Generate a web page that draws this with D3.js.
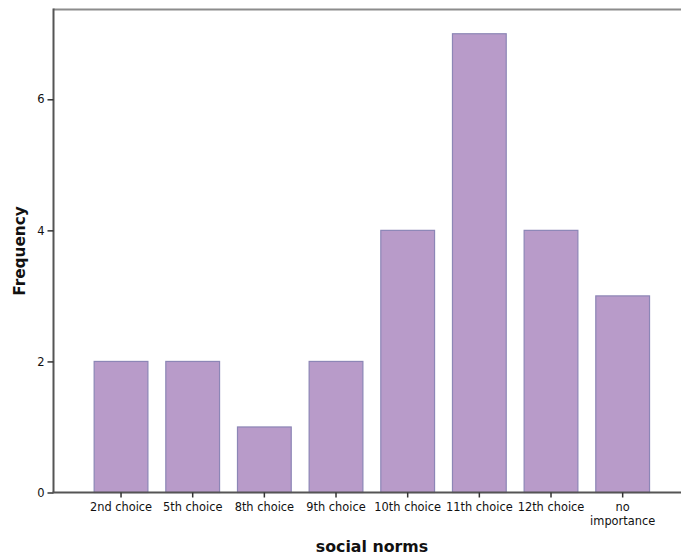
<!DOCTYPE html>
<html>
<head>
<meta charset="utf-8">
<script src="https://cdn.jsdelivr.net/npm/d3@7"></script>
<style>
  html, body { margin: 0; padding: 0; background: #fff; }
  svg { display: block; }
  text { font-family: "DejaVu Sans", "Noto Sans", sans-serif; fill: #111; }
</style>
</head>
<body>
<svg id="chart" width="681" height="556"></svg>
<script>
// Frequency of each ranking given to "social norms"
const categories = ["2nd choice", "5th choice", "8th choice", "9th choice",
                    "10th choice", "11th choice", "12th choice", "no importance"];
const frequencies = [2, 2, 1, 2, 4, 7, 4, 3];
const yTicks = [0, 2, 4, 6];

const svg = d3.select("#chart");
const plot = { left: 53.5, top: 9.5, right: 681, bottom: 492.5 };

const x = d3.scaleBand()
  .domain(categories)
  .range([85.2, 658.5])
  .paddingInner(0.25)
  .paddingOuter(0.125);

const y = d3.scaleLinear()
  .domain([0, 7.37])
  .range([plot.bottom, plot.top]);

// Frame: top edge
svg.append("line")
  .attr("x1", plot.left).attr("x2", plot.right)
  .attr("y1", plot.top).attr("y2", plot.top)
  .attr("stroke", "#8c8c8c").attr("stroke-width", 2);

// Bars
svg.append("g").selectAll("rect")
  .data(frequencies)
  .join("rect")
  .attr("x", (d, i) => x(categories[i]))
  .attr("width", x.bandwidth())
  .attr("y", d => y(d))
  .attr("height", d => y(0) - y(d))
  .attr("fill", "#b89bc9")
  .attr("stroke", "#8c86b6")
  .attr("stroke-width", 1.2);

// Y axis
const yAxis = svg.append("g")
  .attr("transform", `translate(${plot.left},0)`)
  .call(d3.axisLeft(y).tickValues(yTicks).tickSize(6).tickPadding(3).tickSizeOuter(0));
yAxis.select(".domain").attr("stroke", "#555").attr("stroke-width", 2)
  .attr("d", `M0,${plot.top - 1}V${plot.bottom}`);
yAxis.selectAll(".tick line").attr("stroke", "#333").attr("stroke-width", 1.5);
yAxis.selectAll(".tick text").attr("font-size", 11.5).attr("fill", "#222");

// X axis
const xAxis = svg.append("g")
  .attr("transform", `translate(0,${plot.bottom})`)
  .call(d3.axisBottom(x).tickSize(5).tickPadding(5.5).tickSizeOuter(0));
xAxis.select(".domain").attr("stroke", "#555").attr("stroke-width", 2)
  .attr("d", `M${plot.left - 1},0H${plot.right}`);
xAxis.selectAll(".tick line").attr("stroke", "#333").attr("stroke-width", 1.5);
xAxis.selectAll(".tick text")
  .attr("font-size", 11.4).attr("fill", "#222")
  .each(function (d) {
    const t = d3.select(this);
    const words = d === "no importance" ? ["no", "importance"] : [d];
    t.text(null);
    words.forEach((w, i) => {
      t.append("tspan").attr("x", 0).attr("dy", i === 0 ? "0.71em" : "1.18em").text(w);
    });
  });

// Axis titles
svg.append("text")
  .attr("x", 372).attr("y", 551.5)
  .attr("text-anchor", "middle")
  .attr("font-size", 15.8).attr("font-weight", "bold")
  .text("social norms");

svg.append("text")
  .attr("transform", `translate(24.5,${(plot.top + plot.bottom) / 2}) rotate(-90)`)
  .attr("text-anchor", "middle")
  .attr("font-size", 15.3).attr("font-weight", "bold")
  .text("Frequency");
</script>
</body>
</html>
